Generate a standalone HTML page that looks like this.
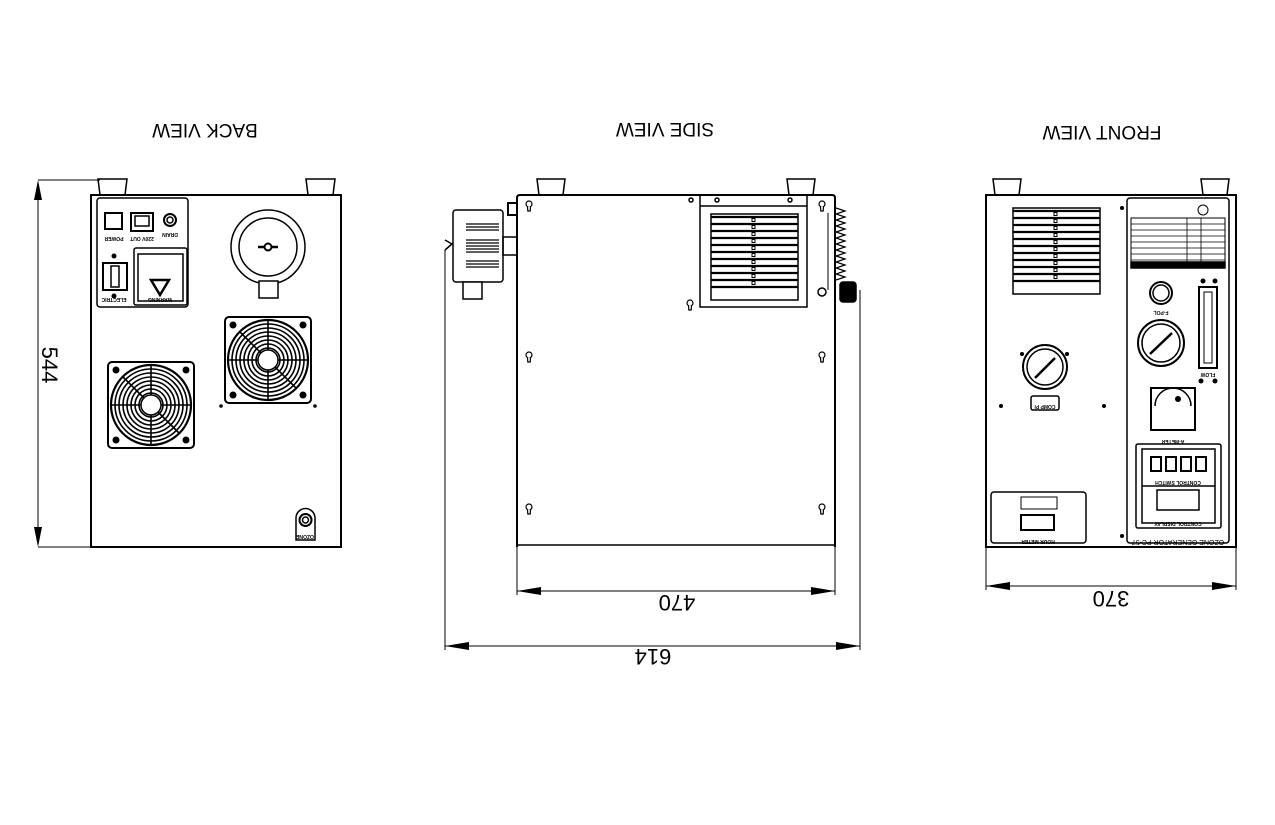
<!DOCTYPE html>
<html><head><meta charset="utf-8"><style>
html,body{margin:0;padding:0;background:#fff;}
svg{display:block;}
text{font-family:"Liberation Sans",sans-serif;fill:#000;}
</style></head><body>
<svg width="1275" height="825" viewBox="0 0 1275 825" xmlns="http://www.w3.org/2000/svg">
<defs>
<g id="kh"><circle cx="0" cy="-1" r="3" fill="#fff" stroke="#000" stroke-width="1.2"/><path d="M-1.5 1.5 L-1.2 6 L1.2 6 L1.5 1.5" fill="#fff" stroke="#000" stroke-width="1.2"/></g>
<g id="fan">
<rect x="-43" y="-43" width="86" height="86" rx="4" fill="#fff" stroke="#000" stroke-width="2"/>
<circle cx="-35" cy="-35" r="3.5"/><circle cx="35" cy="-35" r="3.5"/><circle cx="-35" cy="35" r="3.5"/><circle cx="35" cy="35" r="3.5"/>
<g fill="none" stroke="#000" stroke-width="1.6">
<circle r="40" stroke-width="2.2"/><circle r="36"/><circle r="32"/><circle r="28"/><circle r="24"/><circle r="20"/><circle r="16"/><circle r="12"/>
<line x1="-40" y1="0" x2="-10" y2="0"/><line x1="10" y1="0" x2="40" y2="0"/>
<line x1="0" y1="-40" x2="0" y2="-10"/><line x1="0" y1="10" x2="0" y2="40"/>
<line x1="-28" y1="-28" x2="-7" y2="-7"/><line x1="28" y1="28" x2="7" y2="7"/>
</g>
<circle r="10" fill="#fff" stroke="#000" stroke-width="1.5"/>
</g>
<g id="vent">
<rect x="0" y="0" width="87" height="86" fill="#fff" stroke="#000" stroke-width="1.5"/>
<g fill="none" stroke="#000" stroke-width="2.2">
<line x1="0" y1="3" x2="87" y2="3"/><line x1="0" y1="10" x2="87" y2="10"/><line x1="0" y1="17" x2="87" y2="17"/><line x1="0" y1="24" x2="87" y2="24"/><line x1="0" y1="31" x2="87" y2="31"/><line x1="0" y1="38" x2="87" y2="38"/><line x1="0" y1="45" x2="87" y2="45"/><line x1="0" y1="52" x2="87" y2="52"/><line x1="0" y1="59" x2="87" y2="59"/><line x1="0" y1="66" x2="87" y2="66"/><line x1="0" y1="73" x2="87" y2="73"/>
</g>
<g fill="#fff" stroke="#000" stroke-width="1">
<rect x="41" y="4.5" width="3" height="3"/><rect x="41" y="11.5" width="3" height="3"/><rect x="41" y="18.5" width="3" height="3"/><rect x="41" y="25.5" width="3" height="3"/><rect x="41" y="32.5" width="3" height="3"/><rect x="41" y="39.5" width="3" height="3"/><rect x="41" y="46.5" width="3" height="3"/><rect x="41" y="53.5" width="3" height="3"/><rect x="41" y="60.5" width="3" height="3"/><rect x="41" y="67.5" width="3" height="3"/>
</g>
</g>
</defs>

<text x="205" y="129" font-size="19" text-anchor="middle" dominant-baseline="middle" transform="rotate(180 205 129)">BACK VIEW</text>
<text x="665" y="128" font-size="19" text-anchor="middle" dominant-baseline="middle" transform="rotate(180 665 128)">SIDE VIEW</text>
<text x="1102" y="131" font-size="19" text-anchor="middle" dominant-baseline="middle" transform="rotate(180 1102 131)">FRONT VIEW</text>

<g fill="none" stroke="#000" stroke-width="1.5">
<path d="M98 179 L127 179 L125 195 L100 195 Z" fill="#fff"/>
<path d="M306 179 L335 179 L333 195 L308 195 Z" fill="#fff"/>
<rect x="91" y="195" width="250" height="352" stroke-width="2"/>
<line x1="38" y1="180" x2="100" y2="180" stroke-width="1"/>
<line x1="38" y1="547" x2="91" y2="547" stroke-width="1"/>
<line x1="38" y1="184" x2="38" y2="543" stroke-width="1"/>
<rect x="97" y="198" width="91" height="109" rx="3"/>
<rect x="134" y="248" width="53" height="57" rx="2"/>
<rect x="138" y="254" width="45" height="47"/>
<rect x="105" y="213" width="17" height="16" stroke-width="2"/>
<rect x="131" y="213" width="22" height="18" stroke-width="2"/>
<rect x="135" y="216" width="14" height="10"/>
<circle cx="170" cy="220" r="6" stroke-width="2"/>
<circle cx="170" cy="220" r="3"/>
<rect x="103" y="263" width="24" height="27" stroke-width="2"/>
<rect x="111" y="266" width="8" height="21"/>
<path d="M151 280 L169 280 L160 295 Z" stroke-width="2.5"/>
<circle cx="268" cy="247" r="37"/>
<circle cx="268" cy="247" r="29"/>
<rect x="259" y="281" width="19" height="17" fill="#fff"/>
<path d="M258 247 L278 247" stroke-width="2.5"/>
<circle cx="268" cy="247" r="3.5" fill="#fff" stroke-width="2"/>
<path d="M296 540 L296 518 A9.5 9.5 0 0 1 315 518 L315 540 Z" fill="#fff"/>
<circle cx="305.5" cy="520" r="6" stroke-width="2"/>
<circle cx="305.5" cy="520" r="3"/>

<path d="M537 179 L565 179 L563 195 L539 195 Z" fill="#fff"/>
<path d="M787 179 L815 179 L813 195 L789 195 Z" fill="#fff"/>
<path d="M517 547 L517 198 Q517 195 520 195 L832 195 Q835 195 835 198 L835 547" stroke-width="2"/>
<line x1="517" y1="545" x2="835" y2="545"/>
<rect x="700" y="195" width="107" height="112"/>
<line x1="700" y1="206" x2="807" y2="206"/>
<line x1="828" y1="213" x2="828" y2="290" stroke-width="1"/>
<circle cx="822" cy="292" r="4" fill="#fff"/>
<circle cx="691" cy="200" r="2"/><circle cx="717" cy="200" r="2"/><circle cx="790" cy="200" r="2"/>
<rect x="453" y="210" width="50" height="72" rx="3" fill="#fff"/>
<rect x="463" y="282" width="19" height="17" fill="#fff"/>
<rect x="503" y="237" width="14" height="18"/>
<rect x="508" y="203" width="9" height="12" stroke-width="2"/>
<path d="M445 240 L452 244 L445 250"/>
<line x1="445" y1="250" x2="445" y2="650" stroke-width="1"/>
<line x1="860" y1="290" x2="860" y2="650" stroke-width="1"/>
<polyline points="836,208 845,211 836,214 845,217 836,220 845,223 836,226 845,229 836,232 845,235 836,238 845,241 836,244 845,247 836,250 845,253 836,256 845,259 836,262 845,265 836,268 845,271 836,274 845,277 836,280" stroke-width="1.2"/>
<rect x="840" y="282" width="16" height="20" rx="3" fill="#000"/>
<line x1="517" y1="547" x2="517" y2="595" stroke-width="1"/>
<line x1="835" y1="547" x2="835" y2="595" stroke-width="1"/>
<line x1="517" y1="591" x2="835" y2="591" stroke-width="1"/>
<line x1="445" y1="646" x2="860" y2="646" stroke-width="1"/>

<path d="M993 179 L1021 179 L1019 195 L995 195 Z" fill="#fff"/>
<path d="M1201 179 L1229 179 L1227 195 L1203 195 Z" fill="#fff"/>
<rect x="986" y="195" width="250" height="352" stroke-width="2"/>
<rect x="1127" y="198" width="102" height="345" rx="3"/>
<rect x="1131" y="218" width="94" height="50" stroke-width="1"/>
<g stroke-width="0.8"><line x1="1131" y1="224" x2="1225" y2="224"/><line x1="1131" y1="230" x2="1225" y2="230"/><line x1="1131" y1="236" x2="1225" y2="236"/><line x1="1131" y1="242" x2="1225" y2="242"/><line x1="1131" y1="248" x2="1225" y2="248"/><line x1="1131" y1="254" x2="1225" y2="254"/><line x1="1131" y1="260" x2="1225" y2="260"/><line x1="1187" y1="218" x2="1187" y2="268"/><line x1="1201" y1="218" x2="1201" y2="268"/></g>
<rect x="1131" y="262" width="94" height="6" fill="#000"/>
<circle cx="1203" cy="210" r="5" stroke-width="1"/>
<circle cx="1161" cy="293" r="11" stroke-width="2"/><circle cx="1161" cy="293" r="8"/>
<circle cx="1161" cy="343" r="23" stroke-width="2"/><circle cx="1161" cy="343" r="19"/>
<line x1="1150" y1="354" x2="1172" y2="333" stroke-width="2.5"/>
<rect x="1199" y="287" width="18" height="81" stroke-width="2"/>
<rect x="1204" y="292" width="8" height="71" stroke-width="1"/>
<rect x="1151" y="388" width="44" height="42" stroke-width="2"/>
<path d="M1155 406 A18 18 0 0 1 1191 406"/>
<rect x="1136" y="444" width="85" height="84" rx="2" stroke-width="1.5"/>
<rect x="1142" y="449" width="73" height="74"/>
<line x1="1142" y1="486" x2="1215" y2="486"/>
<rect x="1157" y="490" width="42" height="20"/>
<rect x="1151" y="457" width="10" height="14" stroke-width="2"/>
<rect x="1166" y="457" width="10" height="14" stroke-width="2"/>
<rect x="1181" y="457" width="10" height="14" stroke-width="2"/>
<rect x="1196" y="457" width="10" height="14" stroke-width="2"/>
<circle cx="1045" cy="367" r="22" stroke-width="2"/><circle cx="1045" cy="367" r="18"/>
<line x1="1035" y1="378" x2="1055" y2="358" stroke-width="2.5"/>
<rect x="1031" y="396" width="28" height="14" rx="2"/>
<rect x="991" y="492" width="95" height="51" rx="3"/>
<rect x="1021" y="515" width="33" height="15" stroke-width="2"/>
<rect x="1021" y="497" width="36" height="12" stroke-width="1"/>
<line x1="986" y1="547" x2="986" y2="590" stroke-width="1"/>
<line x1="1236" y1="547" x2="1236" y2="590" stroke-width="1"/>
<line x1="986" y1="586" x2="1236" y2="586" stroke-width="1"/>
</g>

<use href="#fan" x="268" y="360"/>
<use href="#fan" x="151" y="405"/>
<use href="#vent" x="711" y="214"/>
<use href="#vent" x="1013" y="208"/>
<g stroke="#000" stroke-width="1.3">
<line x1="466" y1="224" x2="499" y2="224"/><line x1="466" y1="227" x2="499" y2="227"/><line x1="466" y1="230" x2="499" y2="230"/>
<line x1="466" y1="240" x2="499" y2="240"/><line x1="466" y1="243" x2="499" y2="243"/><line x1="466" y1="246" x2="499" y2="246"/><line x1="466" y1="249" x2="499" y2="249"/><line x1="466" y1="252" x2="499" y2="252"/>
<line x1="466" y1="261" x2="499" y2="261"/><line x1="466" y1="264" x2="499" y2="264"/><line x1="466" y1="267" x2="499" y2="267"/>
</g>
<use href="#kh" x="529" y="205"/><use href="#kh" x="822" y="205"/>
<use href="#kh" x="529" y="356"/><use href="#kh" x="822" y="356"/>
<use href="#kh" x="529" y="508"/><use href="#kh" x="822" y="508"/>
<use href="#kh" x="690" y="304"/>
<g fill="#000">
<circle cx="114" cy="256" r="2.5"/><circle cx="114" cy="296" r="2.5"/>
<circle cx="221" cy="406" r="1.8"/><circle cx="315" cy="406" r="1.8"/>
<circle cx="1001" cy="406" r="2"/><circle cx="1104" cy="406" r="2"/>
<circle cx="1022" cy="354" r="2"/><circle cx="1067" cy="354" r="2"/>
<circle cx="1122" cy="208" r="2"/><circle cx="1122" cy="536" r="2"/>
<circle cx="1201" cy="381" r="2.5"/><circle cx="1215" cy="381" r="2.5"/>
<circle cx="1203" cy="281" r="2.5"/><circle cx="1215" cy="281" r="2.5"/>
<circle cx="1178" cy="399" r="3"/>
</g>
<g fill="#000">
<path d="M38 180 L34 200 L42 200 Z"/><path d="M38 547 L34 527 L42 527 Z"/>
<path d="M517 591 L541 587 L541 595 Z"/><path d="M835 591 L811 587 L811 595 Z"/>
<path d="M445 646 L469 642 L469 650 Z"/><path d="M860 646 L836 642 L836 650 Z"/>
<path d="M986 586 L1010 582 L1010 590 Z"/><path d="M1236 586 L1212 582 L1212 590 Z"/>
</g>
<text x="48" y="365" font-size="22" text-anchor="middle" dominant-baseline="middle" transform="rotate(90 48 365)">544</text>
<text x="677" y="601" font-size="22" text-anchor="middle" dominant-baseline="middle" transform="rotate(180 677 601)">470</text>
<text x="653" y="655" font-size="22" text-anchor="middle" dominant-baseline="middle" transform="rotate(180 653 655)">614</text>
<text x="1111" y="597" font-size="22" text-anchor="middle" dominant-baseline="middle" transform="rotate(180 1111 597)">370</text>
<g font-size="5" font-weight="bold" text-anchor="middle">
<text x="114" y="298" transform="rotate(180 114 298)">ELECTRIC</text>
<text x="114" y="237" transform="rotate(180 114 237)">POWER</text>
<text x="142" y="237" transform="rotate(180 142 237)">220V OUT</text>
<text x="170" y="233" transform="rotate(180 170 233)">DRAIN</text>
<text x="160" y="298" transform="rotate(180 160 298)">WARNING</text>
<text x="305" y="535" transform="rotate(180 305 535)">OZONE</text>
<text x="1045" y="405" transform="rotate(180 1045 405)">COMP PI</text>
<text x="1173" y="440" transform="rotate(180 1173 440)">A-METER</text>
<text x="1178" y="522" transform="rotate(180 1178 522)">CONTROL DISPLAY</text>
<text x="1178" y="481" transform="rotate(180 1178 481)">CONTROL SWITCH</text>
<text x="1161" y="311" transform="rotate(180 1161 311)">F-POL</text>
<text x="1038" y="540" transform="rotate(180 1038 540)">HOUR METER</text>
<text x="1208" y="373" transform="rotate(180 1208 373)">FLOW</text>
</g>
<text x="1178" y="540" font-size="7" font-family="Liberation Serif" text-anchor="middle" transform="rotate(180 1178 540)">OZONE GENERATOR PC-57</text>
</svg>
</body></html>
